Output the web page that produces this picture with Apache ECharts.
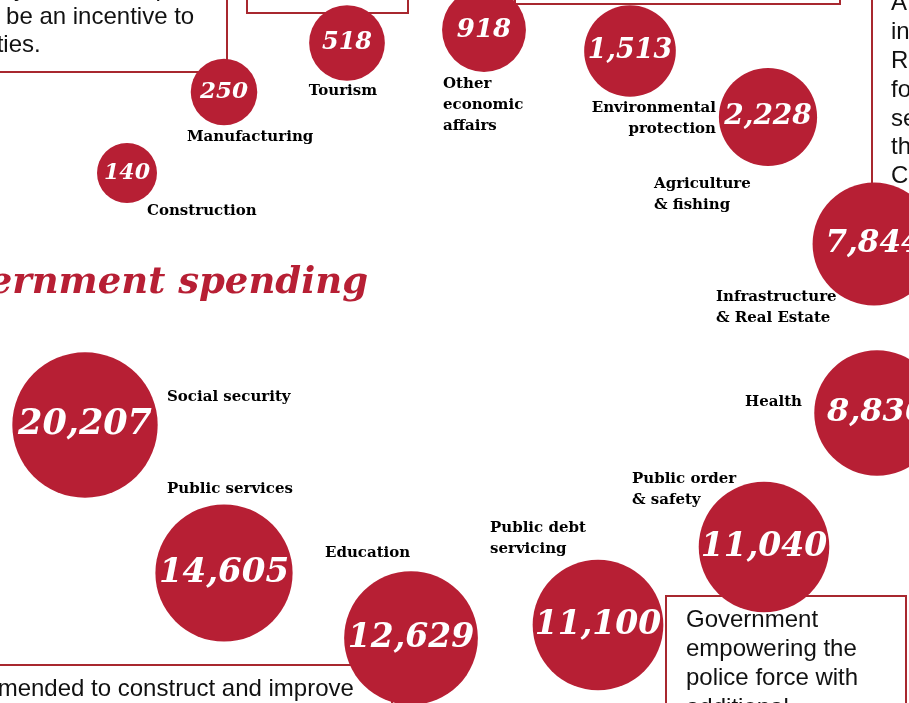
<!DOCTYPE html>
<html>
<head>
<meta charset="utf-8">
<script src="https://cdn.jsdelivr.net/npm/echarts@6/dist/echarts.min.js"></script>
<style>
  html, body { margin: 0; padding: 0; background: #ffffff; }
  #chart { width: 909px; height: 703px; }
</style>
</head>
<body>
<div id="chart"></div>
<script>
// Spending by function (million)
const categories = [
  'Construction', 'Manufacturing', 'Tourism', 'Other\neconomic\naffairs',
  'Environmental\nprotection', 'Agriculture\n& fishing', 'Infrastructure\n& Real Estate',
  'Health', 'Public order\n& safety', 'Public debt\nservicing', 'Education',
  'Public services', 'Social security'
];
const spending = [140, 250, 518, 918, 1513, 2228, 7844, 8836, 11040, 11100, 12629, 14605, 20207];

// Ring layout: bubble centres in page pixels
const bubbleCentre = [
  [127, 173], [224, 92], [347, 43], [484, 30], [630, 51], [768, 117], [874, 244],
  [877, 413], [764, 547], [598, 625], [411, 638], [224, 573], [85, 425]
];
// Name label anchors: x, y (middle of block), alignment
const nameAnchor = [
  [147, 211, 'left'], [187, 137, 'left'], [343, 91, 'center'], [443, 105, 'left'],
  [716, 119, 'right'], [654, 195, 'left'], [716, 308, 'left'], [802, 402, 'right'],
  [632, 490, 'left'], [490, 539, 'left'], [325, 553, 'left'], [230, 489, 'center'],
  [167, 397, 'left']
];

const RED = '#b71f34';
const BOX = '#a8282f';
const BOX_FONT = '24px "Liberation Sans", Arial, sans-serif';

// Bubble radius grows slowly with spending
function radius(v) { return 30 * Math.pow(v / 140, 0.178); }

const chart = echarts.init(document.getElementById('chart'));

function box(x, y, w, h) {
  return {
    type: 'rect', z: 0, silent: true,
    shape: { x: x, y: y, width: w, height: h },
    style: { fill: '#ffffff', stroke: BOX, lineWidth: 2 }
  };
}
function boxText(x, firstBaseline, lineHeight, lines) {
  return {
    type: 'text', z: 1, silent: true,
    x: x, y: firstBaseline - 8 - lineHeight / 2,
    style: {
      text: lines.join('\n'), font: BOX_FONT, fill: '#111111',
      lineHeight: lineHeight, verticalAlign: 'top', align: 'left'
    }
  };
}

chart.setOption({
  animation: false,
  grid: { left: 0, right: 0, top: 0, bottom: 0 },
  xAxis: { type: 'value', min: 0, max: 909, show: false },
  yAxis: { type: 'value', min: 0, max: 703, inverse: true, show: false },
  graphic: [
    box(-20, -40, 247, 112),
    boxText(-58, -3, 28, ['industry will also help', 'could be an incentive to', 'activities.']),
    box(247, -40, 161, 53),
    box(515, -40, 325, 44),
    box(872, -20, 100, 235),
    boxText(891, 11.7, 28.8, ['A larger', 'increase for', 'Resources', 'for the armed',
      'services and', 'the Navy and', 'Coast Guard', 'regional patrols']),
    box(-20, 665, 412, 100),
    boxText(-69, 697, 29, ['recommended to construct and improve']),
    box(666, 596, 240, 150),
    boxText(686, 628, 29.4, ['Government', 'empowering the', 'police force with', 'additional']),
    {
      type: 'text', z: 1, silent: true, x: 368, y: 283,
      style: {
        text: 'Government spending', fill: RED,
        font: 'italic bold 37px "DejaVu Serif", serif',
        align: 'right', verticalAlign: 'middle'
      }
    }
  ],
  series: [
    {
      type: 'scatter', z: 3, silent: true,
      symbol: 'circle',
      symbolSize: function (val) { return 2 * radius(val[2]); },
      itemStyle: { color: RED, opacity: 1 },
      label: {
        show: true, position: 'inside', color: '#ffffff',
        fontFamily: '"DejaVu Serif", serif', fontStyle: 'italic', fontWeight: 'bold',
        formatter: function (p) { return p.value[2].toLocaleString('en-US'); }
      },
      data: spending.map(function (v, i) {
        return {
          name: categories[i],
          value: [bubbleCentre[i][0], bubbleCentre[i][1], v],
          label: { fontSize: Math.round(13 + 0.3 * radius(v)) }
        };
      })
    },
    {
      type: 'scatter', z: 4, silent: true,
      symbolSize: 0,
      itemStyle: { opacity: 1 },
      label: {
        show: true, position: 'inside', color: '#000000', opacity: 1,
        fontFamily: '"DejaVu Serif", serif', fontWeight: 'bold', fontSize: 15,
        lineHeight: 21, verticalAlign: 'middle',
        formatter: function (p) { return p.name; }
      },
      data: categories.map(function (c, i) {
        return {
          name: c,
          value: [nameAnchor[i][0], nameAnchor[i][1]],
          label: { align: nameAnchor[i][2] }
        };
      })
    }
  ]
});
</script>
</body>
</html>
